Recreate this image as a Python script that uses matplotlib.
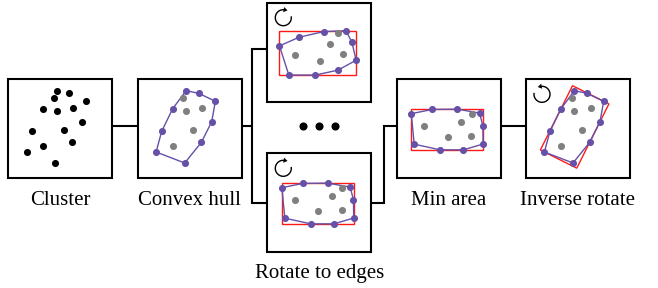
# pipeline: cluster -> convex hull -> rotate to edges -> min area -> inverse rotate
import numpy as np
import matplotlib
matplotlib.use("Agg")
import matplotlib.pyplot as plt
from matplotlib.patches import Rectangle, Polygon

# cluster points, px inside a panel (from top-left corner, y down)
pts_x = [48.4, 61.0, 45.7, 77.7, 35.0, 48.4, 64.7, 74.0, 24.0, 55.7, 63.7, 35.0, 18.4, 47.0]
pts_y = [11.4, 14.0, 19.0, 22.0, 29.4, 32.0, 29.0, 42.4, 52.0, 50.7, 63.0, 66.4, 72.7, 83.7]
hull_idx = [0, 1, 3, 7, 10, 13, 12, 8, 4]
# hull edges used for the two rotations shown
rot_edges = [(10, 13), (7, 10)]

labels = ["Cluster", "Convex hull", "Rotate to edges", "Min area", "Inverse rotate"]

PURPLE = "#6650a8"
GRAY = "#808080"
RED = "#ff1a1a"
W, H = 104, 99
DOT = 26

# panel top-left corners
p_cluster = (8.3, 79.3)
p_hull = (137.7, 79.3)
p_rot_top = (267.3, 2.7)
p_rot_bot = (267.3, 153.3)
p_min = (396.7, 79.3)
p_inv = (526.0, 79.3)

P = np.column_stack([pts_x, pts_y])
interior = [i for i in range(len(P)) if i not in hull_idx]

fig = plt.figure(figsize=(6.58, 2.88), dpi=100)
ax = fig.add_axes([0, 0, 1, 1])
ax.set_xlim(0, 658)
ax.set_ylim(288, 0)
ax.axis("off")


def rot(a, th):
    c, s = np.cos(th), np.sin(th)
    return np.column_stack([a[:, 0] * c - a[:, 1] * s, a[:, 0] * s + a[:, 1] * c])


def box(p):
    ax.add_patch(Rectangle(p, W, H, fill=False, ec="black", lw=1.5, zorder=5))


def rot_icon(p, cw=True):
    cx, cy = p[0] + 16, p[1] + 15
    r = 8
    if cw:
        phi = np.radians(np.linspace(10, -283, 80))
    else:
        phi = np.radians(np.linspace(170, 463, 80))
    xs, ys = cx + r * np.cos(phi), cy - r * np.sin(phi)
    ax.plot(xs, ys, color="black", lw=1.0, solid_capstyle="butt", zorder=6)
    # arrow head along the tangent at the end of the arc
    t = np.array([xs[-1] - xs[-2], ys[-1] - ys[-2]])
    t = t / np.hypot(*t)
    n = np.array([-t[1], t[0]])
    end = np.array([xs[-1], ys[-1]])
    tip = end + 2.5 * t
    base = end - 1.5 * t
    ax.add_patch(Polygon([tip, base + 2.6 * n, base - 2.6 * n], closed=True,
                         fc="black", ec="none", zorder=6))


def draw_hull(Q, off, rect=None):
    Q = Q + np.array(off)
    if rect is not None:
        ax.add_patch(Polygon(rect + np.array(off), closed=True, fill=False, ec=RED, lw=1.0, zorder=2))
    ax.add_patch(Polygon(Q[hull_idx], closed=True, fill=False, ec=PURPLE, lw=1.0, zorder=3))
    ax.scatter(Q[interior, 0], Q[interior, 1], s=DOT, c=GRAY, lw=0, zorder=4)
    ax.scatter(Q[hull_idx, 0], Q[hull_idx, 1], s=DOT, c=PURPLE, lw=0, zorder=4)


# cluster
box(p_cluster)
ax.scatter(P[:, 0] + p_cluster[0], P[:, 1] + p_cluster[1], s=DOT, c="black", lw=0, zorder=4)

# convex hull
box(p_hull)
draw_hull(P, p_hull)

# rotations
rects = []
for (a, b), pan in zip(rot_edges, [p_rot_top, p_rot_bot]):
    e = P[b] - P[a]
    th = np.pi - np.arctan2(e[1], e[0])
    Q = rot(P, th)
    x0, x1 = Q[:, 0].min(), Q[:, 0].max()
    y0, y1 = Q[:, 1].min(), Q[:, 1].max()
    rect = np.array([[x0, y0], [x1, y0], [x1, y1], [x0, y1]])
    shift = np.array([pan[0] + W / 2 - 1.5 - (x0 + x1) / 2, pan[1] + H / 2 + 0.7 - (y0 + y1) / 2])
    box(pan)
    rot_icon(pan, cw=True)
    draw_hull(Q, shift, rect)
    rects.append((th, Q, rect, shift, (x1 - x0) * (y1 - y0)))

# min area
k = int(np.argmin([r[4] for r in rects]))
th, Q, rect, shift, _ = rects[k]
box(p_min)
draw_hull(Q, shift + np.array([p_min[0] - p_rot_bot[0], p_min[1] - p_rot_bot[1]]), rect)

# inverse rotate
box(p_inv)
rot_icon(p_inv, cw=False)
draw_hull(P, p_inv, rot(rect, -th))

# connectors
yc = 126
ytop = p_rot_top[1] + 46.6
ybot = p_rot_bot[1] + 50
lk = dict(color="black", lw=1.5, solid_joinstyle="miter", solid_capstyle="butt", zorder=1)
ax.plot([p_cluster[0] + W, p_hull[0]], [yc, yc], **lk)
ax.plot([p_hull[0] + W, 252], [yc, yc], **lk)
ax.plot([p_rot_top[0], 252, 252, p_rot_bot[0]], [ytop, ytop, ybot, ybot], **lk)
ax.plot([p_rot_bot[0] + W, 384, 384, p_min[0]], [ybot, ybot, yc, yc], **lk)
ax.plot([p_min[0] + W, p_inv[0]], [yc, yc], **lk)

# dots between the rotation panels
ax.scatter([303.3, 319.3, 335.0], [yc, yc, yc], s=34, c="black", lw=0)

# labels
font = dict(family="Liberation Serif", fontsize=15, ha="center", va="baseline")
for t, p in zip([labels[0], labels[1], labels[3], labels[4]], [p_cluster, p_hull, p_min, p_inv]):
    ax.text(p[0] + W / 2, 205, t, **font)
ax.text(p_rot_bot[0] + W / 2, 278, labels[2], **font)

fig.savefig("out.png", dpi=100)
